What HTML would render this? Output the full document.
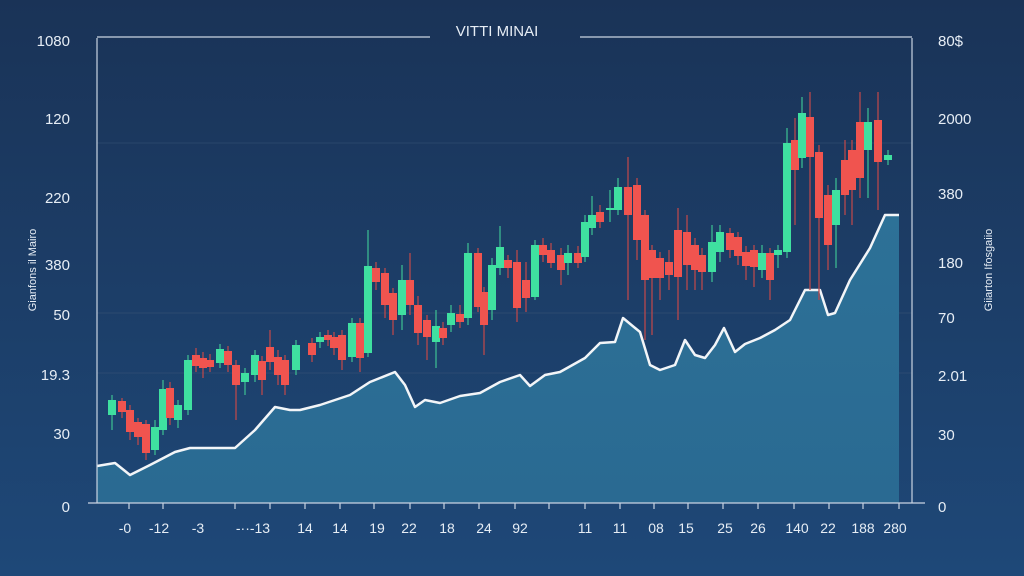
<!DOCTYPE html>
<html><head><meta charset="utf-8"><style>
html,body{margin:0;padding:0;width:1024px;height:576px;overflow:hidden;background:#1c3a62}
svg{display:block}
text{font-family:"Liberation Sans",sans-serif;fill:#e6edf5}
</style></head><body>
<svg id="s" width="1024" height="576" viewBox="0 0 1024 576" xmlns="http://www.w3.org/2000/svg">
<defs>
<linearGradient id="bg" x1="0" y1="0" x2="0" y2="1">
<stop offset="0" stop-color="#1a3357"/><stop offset="1" stop-color="#1e4878"/></linearGradient>
<linearGradient id="ar" x1="0" y1="0" x2="0" y2="1">
<stop offset="0" stop-color="#2d7197"/><stop offset="1" stop-color="#2a6a92"/></linearGradient>
</defs>
<rect width="1024" height="576" fill="url(#bg)"/>
<g stroke="#3a5478" stroke-width="1" opacity="0.5">
<line x1="97" y1="143" x2="912" y2="143"/>
<line x1="97" y1="313" x2="912" y2="313"/>
<line x1="97" y1="373" x2="912" y2="373"/>
</g>
<polygon fill="url(#ar)" points="97,466 115,463 130,475 150,465 175,452 190,448 210,448 235,448 255,430 275,407 290,410 300,410 320,405 335,400 350,395 370,382 395,372 405,385 415,407 425,400 440,403 460,396 480,393 500,382 520,375 530,386 545,375 560,372 585,358 600,343 615,342 623,318 640,332 650,365 660,370 675,365 685,340 695,355 705,358 715,345 724,328 735,352 745,344 760,338 775,330 790,320 805,290 820,290 828,315 835,313 850,280 870,248 885,215 899,215 899,503 97,503"/>
<polyline fill="none" stroke="#f2f5f8" stroke-width="2.5" stroke-linejoin="round" points="97,466 115,463 130,475 150,465 175,452 190,448 210,448 235,448 255,430 275,407 290,410 300,410 320,405 335,400 350,395 370,382 395,372 405,385 415,407 425,400 440,403 460,396 480,393 500,382 520,375 530,386 545,375 560,372 585,358 600,343 615,342 623,318 640,332 650,365 660,370 675,365 685,340 695,355 705,358 715,345 724,328 735,352 745,344 760,338 775,330 790,320 805,290 820,290 828,315 835,313 850,280 870,248 885,215 899,215"/>
<g id="c"></g>
<g stroke="#c9d4e2" stroke-width="1.2">
<line x1="97" y1="38" x2="97" y2="503"/>
<line x1="912" y1="38" x2="912" y2="503"/>
<line x1="88" y1="503" x2="925" y2="503"/>
<line x1="97" y1="37" x2="430" y2="37"/>
<line x1="580" y1="37" x2="912" y2="37"/>
</g>
<text x="497" y="36" font-size="15" text-anchor="middle">VITTI MINAI</text>
<g font-size="15" text-anchor="end">
<text x="70" y="46">1080</text><text x="70" y="124">120</text><text x="70" y="203">220</text>
<text x="70" y="270">380</text><text x="70" y="320">50</text><text x="70" y="380">19.3</text>
<text x="70" y="439">30</text><text x="70" y="512">0</text>
</g>
<g font-size="15">
<text x="938" y="46">80$</text><text x="938" y="124">2000</text><text x="938" y="199">380</text>
<text x="938" y="268">180</text><text x="938" y="323">70</text><text x="938" y="381">2.01</text>
<text x="938" y="440">30</text><text x="938" y="512">0</text>
</g>
<text transform="translate(36,270) rotate(-90)" font-size="11" text-anchor="middle">Gianfons il Mairo</text>
<text transform="translate(992,270) rotate(-90)" font-size="11" text-anchor="middle">Giiarton Ifosgaiio</text>
<g id="t" font-size="14" text-anchor="middle"></g>
</svg>
<script>
var c=[[112,415,400,395,430],[122,401,412,398,418],[130,410,432,405,440],[138,422,437,418,445],[146,424,453,420,460],[155,450,427,420,455],[163,430,389,380,435],[170,388,418,382,425],[178,420,405,400,428],[188,410,360,355,415],[196,355,366,348,372],[203,358,368,352,378],[210,360,367,354,372],[220,363,349,344,368],[228,351,365,346,372],[236,365,385,360,420],[245,382,373,368,395],[255,375,355,350,382],[262,361,380,356,395],[270,347,362,330,370],[278,357,375,350,385],[285,360,385,355,395],[296,370,345,340,375],[312,343,355,338,362],[320,342,337,332,348],[328,335,340,330,346],[334,337,348,332,355],[342,335,360,330,370],[352,357,323,318,362],[360,323,358,318,372],[368,353,266,230,357],[376,268,282,262,290],[385,273,305,268,318],[393,293,320,288,335],[402,315,280,265,330],[410,280,305,253,315],[418,305,333,296,345],[427,320,337,315,360],[436,342,326,310,368],[443,328,338,322,345],[451,325,313,305,332],[460,314,322,305,328],[468,318,253,243,325],[478,253,307,248,312],[484,292,325,287,355],[492,310,265,258,320],[500,268,247,226,275],[508,260,268,255,278],[517,262,308,250,322],[526,280,298,262,312],[535,297,245,240,300],[543,245,255,238,262],[551,250,263,243,268],[561,255,270,248,285],[568,263,253,245,275],[578,253,263,246,268],[585,257,222,215,262],[592,228,215,196,235],[600,212,222,205,228],[610,210,208,190,222],[618,210,187,178,215],[628,187,215,157,300],[637,185,240,178,260],[645,215,280,210,340],[652,250,278,245,335],[660,258,278,252,300],[669,262,275,250,290],[678,230,277,208,320],[687,232,265,215,290],[695,245,270,238,290],[702,255,272,248,290],[712,272,242,225,282],[720,252,232,225,262],[730,233,250,228,258],[738,237,256,232,265],[746,252,266,246,280],[754,250,267,245,287],[762,270,253,245,278],[770,253,280,248,300],[778,255,250,245,268],[787,252,143,128,258],[795,140,170,118,225],[802,158,113,97,168],[810,117,157,92,290],[819,152,218,145,300],[828,195,245,185,270],[836,225,190,178,268],[845,160,195,140,215],[852,150,190,140,225],[860,122,178,92,198],[868,150,122,108,198],[878,120,162,92,210],[888,160,155,150,165]];
var g='';c.forEach(function(d){var up=d[2]<d[1];var col=up?'#3fe0a0':'#f0544f';var wc=up?'#3bb890':'#b8484c';var t=Math.min(d[1],d[2]),h=Math.max(2,Math.abs(d[1]-d[2]));g+='<line x1="'+d[0]+'" x2="'+d[0]+'" y1="'+d[3]+'" y2="'+d[4]+'" stroke="'+wc+'" stroke-width="1.3"/><rect x="'+(d[0]-4)+'" y="'+t+'" width="8" height="'+h+'" fill="'+col+'"/>';});
document.getElementById('c').innerHTML=g;
var tx=[129,163,235,270,305,340,374,410,444,479,515,549,585,620,654,688,723,758,794,829,863,899];
var tl=[['-0',125],['-12',159],['-3',198],['-··-13',253],['14',305],['14',340],['19',377],['22',409],['18',447],['24',484],['92',520],['11',585],['11',620],['08',656],['15',686],['25',725],['26',758],['140',797],['22',828],['188',863],['280',895]];
var s='';tx.forEach(function(x){s+='<line x1="'+x+'" x2="'+x+'" y1="503" y2="509" stroke="#c9d4e2" stroke-width="1.2"/>';});
tl.forEach(function(l){s+='<text x="'+l[1]+'" y="533">'+l[0]+'</text>';});
document.getElementById('t').innerHTML=s;
</script>
</body></html>
